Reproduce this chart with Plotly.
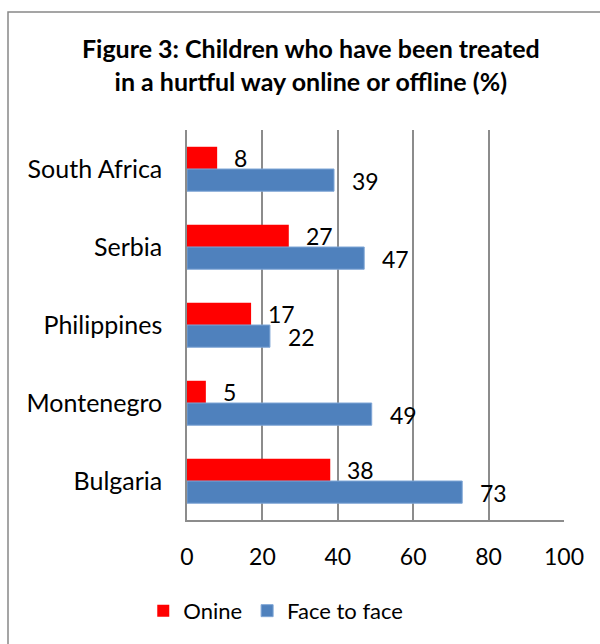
import plotly.graph_objects as go

countries = ["South Africa", "Serbia", "Philippines", "Montenegro", "Bulgaria"]
online = [8, 27, 17, 5, 38]
face_to_face = [39, 47, 22, 49, 73]
x_ticks = [0, 20, 40, 60, 80, 100]

RED = "#FF0000"
BLUE = "#4F81BD"
FONT = "Lato"

fig = go.Figure()
fig.add_trace(go.Bar(y=countries, x=online, orientation="h", name="Onine",
                     marker=dict(color=RED, line=dict(width=0))))
fig.add_trace(go.Bar(y=countries, x=face_to_face, orientation="h", name="Face to face",
                     marker=dict(color=BLUE, line=dict(color="#7FA6D6", width=1))))

annotations = []
for c, v in zip(countries, online):
    annotations.append(dict(x=v, y=c, text=str(v), showarrow=False, xanchor="left",
                            yanchor="middle", xshift=15, yshift=11,
                            font=dict(family=FONT, size=23, color="#000")))
for c, v in zip(countries, face_to_face):
    annotations.append(dict(x=v, y=c, text=str(v), showarrow=False, xanchor="left",
                            yanchor="middle", xshift=16, yshift=-12,
                            font=dict(family=FONT, size=23, color="#000")))

fig.update_layout(
    width=600, height=644,
    margin=dict(l=187, r=36, t=130, b=124),
    paper_bgcolor="white", plot_bgcolor="white",
    barmode="group", bargap=0.43, bargroupgap=0,
    font=dict(family=FONT, size=22, color="#000"),
    title=dict(text="<b>Figure 3: Children who have been treated<br>in a hurtful way online or offline (%)</b>",
               x=0.518, xanchor="center", y=1 - 58 / 644, yanchor="middle",
               font=dict(family=FONT, size=25, color="#000")),
    showlegend=True,
    legend=dict(orientation="h", x=-0.116, xanchor="left", y=-0.233, yanchor="middle",
                font=dict(family=FONT, size=22, color="#000"), itemwidth=30,
                bgcolor="rgba(0,0,0,0)"),
    annotations=annotations,
    shapes=[dict(type="rect", xref="paper", yref="paper",
                 x0=(8 - 187) / 377, x1=(620 - 187) / 377,
                 y0=(520 - 670) / 390, y1=(520 - 12) / 390,
                 line=dict(color="#888888", width=1.5), fillcolor="rgba(0,0,0,0)",
                 layer="below")],
)
fig.update_xaxes(range=[0, 100], tickvals=x_ticks, ticktext=[str(t) for t in x_ticks],
                 showgrid=True, gridcolor="#8C8C8C", gridwidth=1.5,
                 showline=True, linecolor="#8C8C8C", linewidth=1.5, mirror=False,
                 zeroline=False, ticks="", ticklabelstandoff=16,
                 tickfont=dict(family=FONT, size=23, color="#000"))
fig.update_yaxes(autorange="reversed", showgrid=False, showline=True,
                 linecolor="#8C8C8C", linewidth=1.5, ticks="", ticklabelstandoff=18,
                 tickfont=dict(family=FONT, size=25, color="#000"))

fig.write_html("out.html")
